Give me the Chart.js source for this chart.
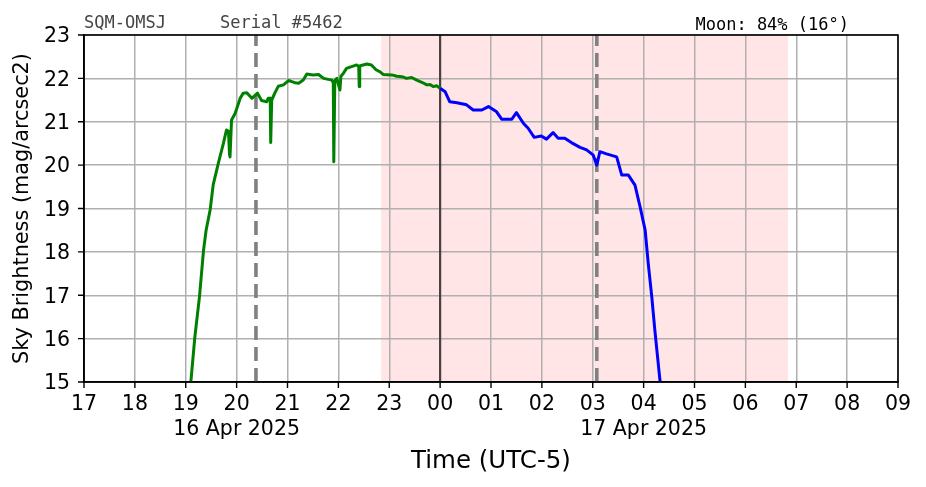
<!DOCTYPE html>
<html>
<head>
<meta charset="utf-8">
<script src="https://cdn.jsdelivr.net/npm/chart.js@4/dist/chart.umd.min.js"></script>
<style>
  html, body { margin: 0; padding: 0; background: #fff; }
  #wrap { position: relative; width: 926px; height: 487px; }
</style>
</head>
<body>
<div id="wrap"><canvas id="c" width="926" height="487"></canvas></div>
<script>
// ---- data (hours since midnight of 16 Apr; 24 = 00:00 17 Apr) ----
const eveningTimes = [19.10,19.18,19.27,19.35,19.40,19.48,19.54,19.64,19.74,19.80,19.84,19.86,19.87,19.90,19.97,20.07,20.13,20.20,20.30,20.41,20.49,20.59,20.62,20.66,20.67,20.69,20.75,20.82,20.92,21.02,21.10,21.15,21.22,21.31,21.38,21.50,21.61,21.71,21.87,21.90,21.91,21.93,21.97,22.03,22.05,22.10,22.16,22.26,22.36,22.40,22.41,22.42,22.43,22.56,22.65,22.74,22.82,22.88,23.05,23.15,23.25,23.34,23.44,23.54,23.64,23.74,23.80,23.87,23.93,24.00];
const eveningMags  = [15.00,16.05,16.97,18.04,18.50,18.97,19.55,20.04,20.50,20.81,20.78,20.25,20.19,21.04,21.19,21.54,21.66,21.67,21.54,21.66,21.49,21.46,21.54,21.54,20.52,21.50,21.66,21.82,21.85,21.95,21.92,21.90,21.89,21.96,22.10,22.08,22.09,22.00,21.96,21.90,20.08,21.95,22.00,21.73,22.05,22.12,22.23,22.27,22.31,22.28,21.81,22.28,22.29,22.33,22.31,22.20,22.15,22.09,22.08,22.05,22.04,22.00,22.02,21.96,21.91,21.85,21.86,21.81,21.83,21.77];
const morningTimes = [24.00,24.10,24.19,24.33,24.52,24.65,24.82,24.95,25.11,25.21,25.41,25.50,25.64,25.73,25.85,25.99,26.09,26.22,26.32,26.45,26.58,26.75,26.88,27.01,27.08,27.14,27.27,27.47,27.57,27.70,27.83,27.93,28.03,28.09,28.16,28.22,28.32,28.34];
const morningMags  = [21.77,21.69,21.46,21.44,21.39,21.27,21.27,21.35,21.23,21.06,21.06,21.21,20.96,20.85,20.64,20.67,20.60,20.75,20.62,20.62,20.52,20.41,20.35,20.23,20.00,20.31,20.26,20.19,19.77,19.77,19.54,19.04,18.50,17.74,16.97,16.20,15.05,14.90];

const xMin = 17, xMax = 33;          // 17:00 .. 09:00
const yMin = 15, yMax = 23;
const dateLabels = { 20: '16 Apr 2025', 28: '17 Apr 2025' };
const nightSpan = [22.84, 30.84];     // shaded night interval
const midnight = 24.0;
const moonEvents = [20.38, 27.08];    // dashed markers
const headerLeft = 'SQM-OMSJ';
const headerSerial = 'Serial #5462';
const headerMoon = 'Moon: 84% (16\u00b0)';

function pts(t, m) { return t.map((v, i) => ({ x: v, y: m[i] })); }

const overlayPlugin = {
  id: 'overlay',
  beforeDraw(chart) {
    const { ctx, chartArea: a, scales: { x } } = chart;
    ctx.save();
    ctx.fillStyle = 'rgba(255,0,0,0.1)';
    const x0 = x.getPixelForValue(nightSpan[0]), x1 = x.getPixelForValue(nightSpan[1]);
    ctx.fillRect(x0, a.top, x1 - x0, a.bottom - a.top);
    ctx.restore();
  },
  beforeDatasetsDraw(chart) {
    const { ctx, chartArea: a, scales: { x } } = chart;
    ctx.save();
    ctx.strokeStyle = 'rgba(60,50,50,0.9)';
    ctx.lineWidth = 2.2;
    const px = x.getPixelForValue(midnight);
    ctx.beginPath(); ctx.moveTo(px, a.bottom); ctx.lineTo(px, a.top); ctx.stroke();
    ctx.strokeStyle = 'rgba(128,128,128,1)';
    ctx.lineWidth = 3.6;
    ctx.setLineDash([14, 7]);
    moonEvents.forEach(v => {
      const p = x.getPixelForValue(v);
      ctx.beginPath(); ctx.moveTo(p, a.bottom); ctx.lineTo(p, a.top); ctx.stroke();
    });
    ctx.restore();
  },
  afterDraw(chart) {
    const { ctx, chartArea: a, scales: { x, y } } = chart;
    ctx.save();
    ctx.strokeStyle = '#000';
    ctx.lineWidth = 1.6;
    ctx.strokeRect(a.left, a.top, a.right - a.left, a.bottom - a.top);
    // tick marks
    ctx.lineWidth = 1.4;
    ctx.beginPath();
    x.ticks.forEach(t => {
      const p = x.getPixelForValue(t.value);
      ctx.moveTo(p, a.bottom); ctx.lineTo(p, a.bottom + 6);
    });
    y.ticks.forEach(t => {
      const p = y.getPixelForValue(t.value);
      const len = Number.isInteger(t.value) ? 6 : 3.5;
      ctx.moveTo(a.left, p); ctx.lineTo(a.left - len, p);
    });
    ctx.stroke();
    // header texts
    ctx.font = '17px "DejaVu Sans Mono"';
    ctx.textBaseline = 'alphabetic';
    ctx.fillStyle = '#444';
    ctx.textAlign = 'left';
    ctx.fillText(headerLeft, 84, 28);
    ctx.fillText(headerSerial, 220, 28);
    ctx.fillStyle = '#000';
    ctx.textAlign = 'right';
    ctx.fillText(headerMoon, 849, 30);
    ctx.restore();
  }
};

new Chart(document.getElementById('c'), {
  type: 'line',
  data: {
    datasets: [
      { data: pts(eveningTimes, eveningMags), borderColor: '#008000', borderWidth: 3, pointRadius: 0, tension: 0, fill: false, borderJoinStyle: 'round' },
      { data: pts(morningTimes, morningMags), borderColor: '#0000ff', borderWidth: 3, pointRadius: 0, tension: 0, fill: false, borderJoinStyle: 'round' }
    ]
  },
  options: {
    responsive: false,
    animation: false,
    parsing: false,
    layout: { padding: { left: 0, right: 28, top: 35, bottom: 0 } },
    plugins: { legend: { display: false }, tooltip: { enabled: false } },
    scales: {
      x: {
        type: 'linear', min: xMin, max: xMax,
        afterFit(s) { s.height = 105; },
        border: { color: '#000', width: 1.6 },
        grid: { color: '#b0b0b0', lineWidth: 1.5, drawTicks: false },
        ticks: {
          stepSize: 1, autoSkip: false, maxRotation: 0, padding: 10.5, color: '#000',
          font: { family: 'DejaVu Sans', size: 20.5, lineHeight: 1.22 },
          callback(v) {
            const h = String(Math.round(v) % 24).padStart(2, '0');
            return dateLabels[v] ? [h, dateLabels[v]] : h;
          }
        },
        title: { display: true, text: 'Time (UTC-5)', color: '#000', font: { family: 'DejaVu Sans', size: 24.5, lineHeight: 1.2 }, padding: { top: 11, bottom: 11 } }
      },
      y: {
        min: yMin, max: yMax,
        afterFit(s) { s.width = 84; },
        border: { color: '#000', width: 1.6 },
        grid: { color: '#b0b0b0', lineWidth: 1.5, drawTicks: false },
        ticks: {
          stepSize: 0.5, padding: 14, color: '#000', labelOffset: 2,
          font: { family: 'DejaVu Sans', size: 20.5 },
          callback(v) { return Number.isInteger(v) ? String(v) : ''; }
        },
        title: { display: true, text: 'Sky Brightness (mag/arcsec2)', color: '#000', font: { family: 'DejaVu Sans', size: 20.8, lineHeight: 1.2 }, padding: { top: 10.5, bottom: 10.5 } }
      }
    }
  },
  plugins: [overlayPlugin]
});
</script>
</body>
</html>
